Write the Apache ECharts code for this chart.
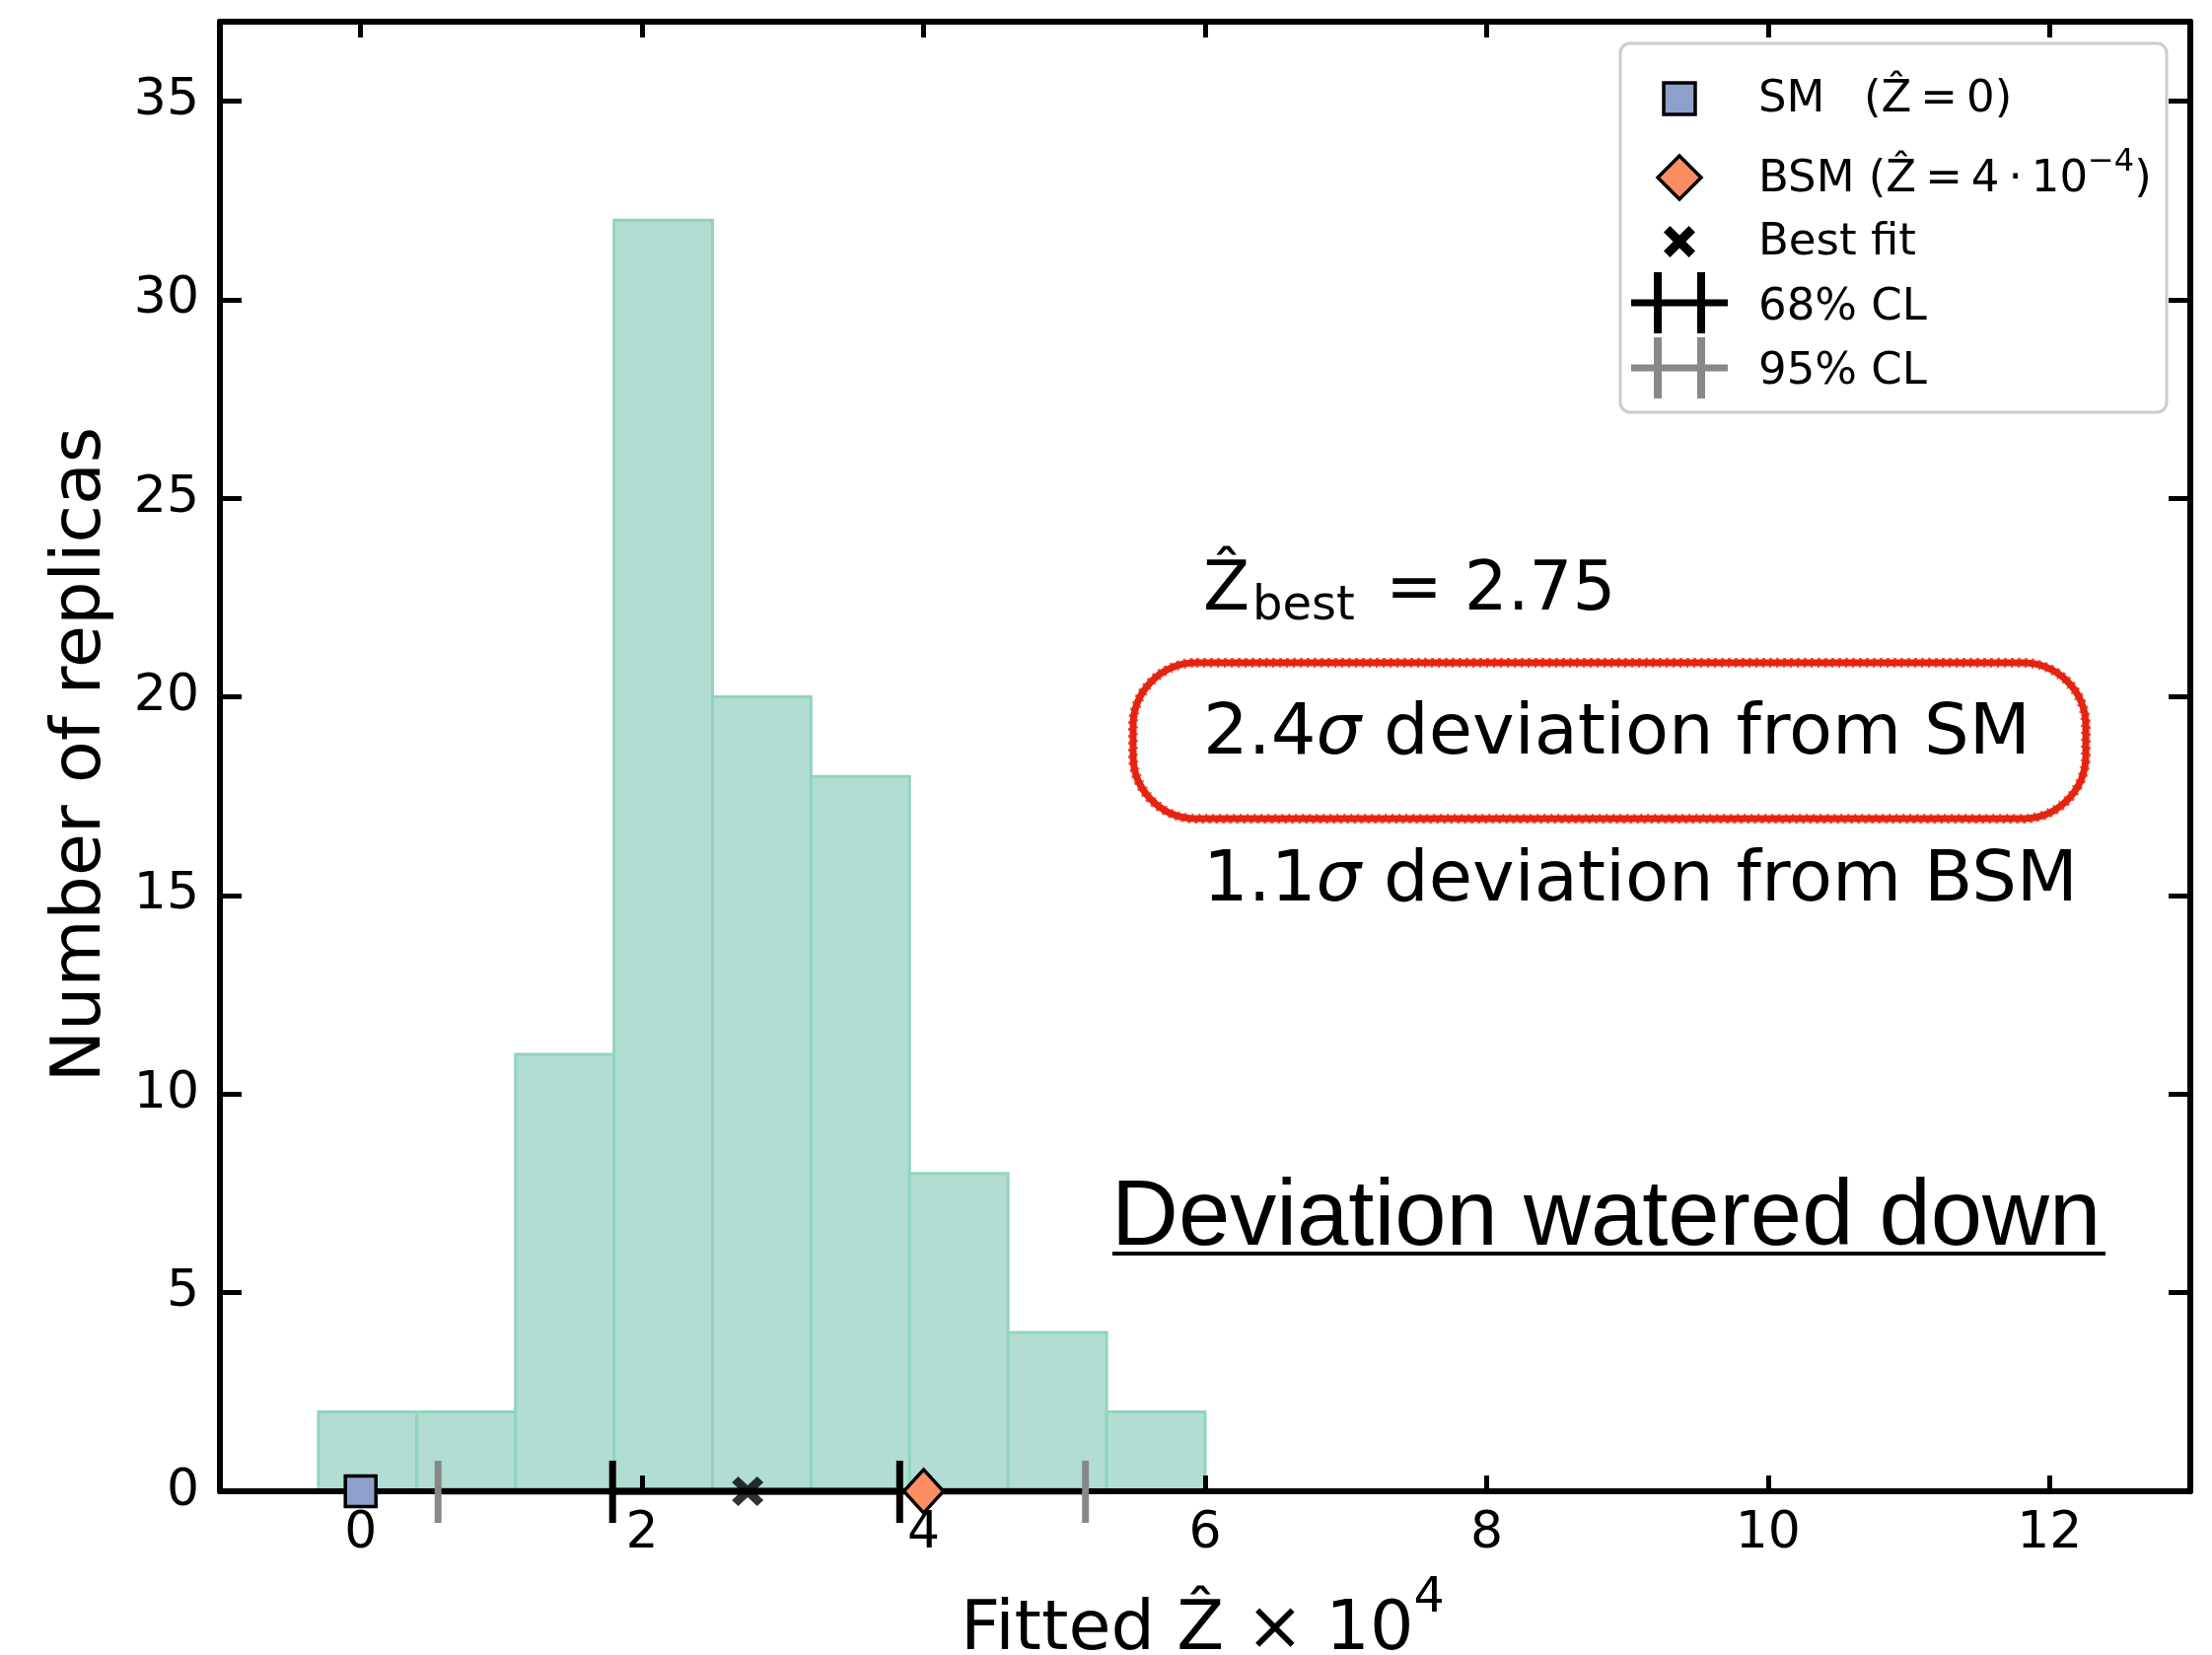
<!DOCTYPE html>
<html>
<head>
<meta charset="utf-8">
<script src="https://cdn.jsdelivr.net/npm/echarts@6/dist/echarts.min.js"></script>
<style>
  html, body { margin: 0; padding: 0; background: #ffffff; }
  #chart { width: 2243px; height: 1678px; }
</style>
</head>
<body>
<div id="chart"></div>
<script>
// Histogram of fitted Z-hat (x 10^4) over the replicas
const binEdges = [-0.3, 0.4, 1.1, 1.8, 2.5, 3.2, 3.9, 4.6, 5.3, 6.0];
const replicaCounts = [2, 2, 11, 32, 20, 18, 8, 4, 2];

// Reference points on the axis
const smPoint = [0, 0];
const bsmPoint = [4, 0];
const bestFitPoint = [2.75, 0];

// Confidence intervals (lower, upper)
const cl68 = [1.79, 3.83];
const cl95 = [0.55, 5.15];

// Tick positions
const xTicks = [0, 2, 4, 6, 8, 10, 12];
const yTicks = [0, 5, 10, 15, 20, 25, 30, 35];

const FONT = "'DejaVu Sans', sans-serif";
const HELV = "'Liberation Sans', Arial, sans-serif";
const BAR_FILL = '#b1ddd2';
const BAR_EDGE = '#93d3be';
const SM_COLOR = '#8da0cb';
const BSM_COLOR = '#fc8d62';
const CL68_COLOR = '#000000';
const CL95_COLOR = '#888888';
const MARKER_RED = '#e5230f';
// filled "x" marker outline in a 100x100 box
const X_OUTLINE = [[20, 0], [50, 30], [80, 0], [100, 20], [70, 50], [100, 80], [80, 100], [50, 70], [20, 100], [0, 80], [30, 50], [0, 20]];
const X_PATH = 'path://M' + X_OUTLINE.map(p => p.join(',')).join('L') + 'Z';

const histData = replicaCounts.map((c, i) => [binEdges[i], binEdges[i + 1], c]);
const clData = [
  [cl95[0], cl95[1], 0],
  [cl68[0], cl68[1], 1]
];
const clColors = [CL95_COLOR, CL68_COLOR];

function axisCommon(extra) {
  return Object.assign({
    type: 'value',
    splitLine: { show: false },
    axisLine: { show: true, onZero: false, lineStyle: { color: '#000', width: 6 } },
    z: 3
  }, extra);
}

// legend glyph for the best-fit marker, centred on (cx, cy)
function legendX(cx, cy, size) {
  return X_OUTLINE.map(p => [cx - size / 2 + p[0] * size / 100, cy - size / 2 + p[1] * size / 100]);
}

// legend glyph for an interval with end caps
function legendCL(cy, color) {
  return [
    { type: 'line', z: 11, shape: { x1: 1654, y1: cy, x2: 1752, y2: cy }, style: { stroke: color, lineWidth: 7 } },
    { type: 'line', z: 11, shape: { x1: 1681, y1: cy - 31, x2: 1681, y2: cy + 31 }, style: { stroke: color, lineWidth: 8 } },
    { type: 'line', z: 11, shape: { x1: 1725, y1: cy - 31, x2: 1725, y2: cy + 31 }, style: { stroke: color, lineWidth: 8 } }
  ];
}

function legendText(x, cy, text) {
  return { type: 'text', x: x, y: cy, z: 11,
    style: { text: text, fontSize: 45, fontFamily: FONT, fill: '#000', verticalAlign: 'middle' } };
}

// hand-drawn style highlight ring around the SM line
function highlightRing(x, y, w, h, r) {
  return [
    { type: 'rect', z: 12, shape: { x: x, y: y, width: w, height: h, r: r },
      style: { fill: 'transparent', stroke: MARKER_RED, lineWidth: 7 } },
    { type: 'rect', z: 12, shape: { x: x - 4, y: y - 4, width: w + 8, height: h + 8, r: r + 4 },
      style: { fill: 'transparent', stroke: 'rgba(229,35,15,0.75)', lineWidth: 2, lineDash: [3, 4] } },
    { type: 'rect', z: 12, shape: { x: x + 4, y: y + 4, width: w - 8, height: h - 8, r: r - 4 },
      style: { fill: 'transparent', stroke: 'rgba(229,35,15,0.75)', lineWidth: 2, lineDash: [2, 5] } }
  ];
}

const chart = echarts.init(document.getElementById('chart'), null, { renderer: 'canvas' });

const option = {
  animation: false,
  backgroundColor: '#ffffff',
  grid: { left: 223, right: 22, top: 22, bottom: 166, outerBoundsMode: 'none', containLabel: false },
  xAxis: [
    axisCommon({
      position: 'bottom', min: -1, max: 13,
      axisTick: { inside: true, length: 16, customValues: xTicks, lineStyle: { color: '#000', width: 5 } },
      axisLabel: { customValues: xTicks, fontSize: 52, fontFamily: FONT, color: '#000', margin: 17 }
    }),
    axisCommon({
      position: 'top', min: -1, max: 13,
      axisTick: { inside: true, length: 16, customValues: xTicks, lineStyle: { color: '#000', width: 5 } },
      axisLabel: { show: false }
    })
  ],
  yAxis: [
    axisCommon({
      position: 'left', min: 0, max: 37,
      axisTick: { inside: true, length: 22, customValues: yTicks, lineStyle: { color: '#000', width: 5 } },
      axisLabel: { customValues: yTicks, fontSize: 52, fontFamily: FONT, color: '#000', margin: 21 }
    }),
    axisCommon({
      position: 'right', min: 0, max: 37,
      axisTick: { inside: true, length: 22, customValues: yTicks, lineStyle: { color: '#000', width: 5 } },
      axisLabel: { show: false }
    })
  ],
  series: [
    {
      name: 'replicas',
      type: 'custom',
      xAxisIndex: 0, yAxisIndex: 0,
      z: 1,
      data: histData,
      renderItem: function (params, api) {
        const p0 = api.coord([api.value(0), api.value(2)]);
        const p1 = api.coord([api.value(1), 0]);
        return {
          type: 'rect',
          shape: { x: p0[0], y: p0[1], width: p1[0] - p0[0], height: p1[1] - p0[1] },
          style: { fill: BAR_FILL, stroke: BAR_EDGE, lineWidth: 3 }
        };
      }
    },
    {
      // interval bars along the axis
      name: 'CL lines',
      type: 'custom',
      z: 2,
      data: clData,
      renderItem: function (params, api) {
        const a = api.coord([api.value(0), 0]);
        const b = api.coord([api.value(1), 0]);
        return {
          type: 'line',
          shape: { x1: a[0], y1: a[1], x2: b[0], y2: b[1] },
          style: { stroke: clColors[api.value(2)], lineWidth: 7 }
        };
      }
    },
    {
      // interval end caps
      name: 'CL caps',
      type: 'custom',
      z: 4,
      clip: false,
      data: clData,
      renderItem: function (params, api) {
        const col = clColors[api.value(2)];
        const a = api.coord([api.value(0), 0]);
        const b = api.coord([api.value(1), 0]);
        return {
          type: 'group',
          children: [a, b].map(p => ({
            type: 'line',
            shape: { x1: p[0], y1: p[1] - 31, x2: p[0], y2: p[1] + 32 },
            style: { stroke: col, lineWidth: 7 }
          }))
        };
      }
    },
    {
      name: 'Best fit', type: 'scatter', z: 5, clip: false,
      data: [bestFitPoint], symbol: X_PATH, symbolSize: [32, 30],
      itemStyle: { color: '#000' }
    },
    {
      name: 'SM', type: 'scatter', z: 6, clip: false,
      data: [smPoint], symbol: 'rect', symbolSize: 31,
      itemStyle: { color: SM_COLOR, borderColor: '#000', borderWidth: 3.5, opacity: 1 }
    },
    {
      name: 'BSM', type: 'scatter', z: 6, clip: false,
      data: [bsmPoint], symbol: 'diamond', symbolSize: [40, 44],
      itemStyle: { color: BSM_COLOR, borderColor: '#000', borderWidth: 3.5, opacity: 1 }
    }
  ],
  graphic: {
    elements: [
      // axis titles
      {
        type: 'text', x: 83, y: 765, rotation: Math.PI / 2, z: 10,
        style: { text: 'Number of replicas', fontSize: 70, fontFamily: FONT, fill: '#000', align: 'center', verticalAlign: 'middle' }
      },
      {
        type: 'text', x: 974, y: 1597, z: 10,
        style: {
          text: '{m|Fitted Ẑ × 10}{s|4}', align: 'left', verticalAlign: 'top',
          rich: {
            m: { fontSize: 70, fontFamily: FONT, fill: '#000', lineHeight: 92, verticalAlign: 'bottom' },
            s: { fontSize: 49, fontFamily: FONT, fill: '#000', lineHeight: 49, verticalAlign: 'top' }
          }
        }
      },
      // legend
      {
        type: 'rect', z: 10,
        shape: { x: 1643, y: 44, width: 554, height: 374, r: 10 },
        style: { fill: 'rgba(255,255,255,0.85)', stroke: '#cccccc', lineWidth: 3 }
      },
      {
        type: 'rect', z: 11,
        shape: { x: 1687, y: 84, width: 32, height: 32 },
        style: { fill: SM_COLOR, stroke: '#000', lineWidth: 3.5 }
      },
      {
        type: 'polygon', z: 11,
        shape: { points: [[1703, 158], [1725, 180], [1703, 202], [1681, 180]] },
        style: { fill: BSM_COLOR, stroke: '#000', lineWidth: 3.5 }
      },
      {
        type: 'polygon', z: 11,
        shape: { points: legendX(1703, 245, 32) },
        style: { fill: '#000' }
      },
      ...legendCL(307, CL68_COLOR),
      ...legendCL(373, CL95_COLOR),
      legendText(1783, 101, 'SM'),
      legendText(1890, 101, '(Ẑ\u2009=\u20090)'),
      {
        type: 'text', x: 1783, y: 149, z: 11,
        style: {
          text: '{m|BSM (Ẑ\u2009=\u20094\u2009·\u200910}{s|−4}{m|)}', align: 'left', verticalAlign: 'top',
          rich: {
            m: { fontSize: 45, fontFamily: FONT, fill: '#000', lineHeight: 56, verticalAlign: 'bottom' },
            s: { fontSize: 32, fontFamily: FONT, fill: '#000', lineHeight: 32, verticalAlign: 'top' }
          }
        }
      },
      legendText(1783, 246, 'Best fit'),
      legendText(1783, 312, '68% CL'),
      legendText(1783, 377, '95% CL'),
      // fit summary
      {
        type: 'text', x: 1220, y: 600, z: 10,
        style: { text: 'Ẑ', fontSize: 69, fontFamily: FONT, fill: '#000', verticalAlign: 'middle' }
      },
      {
        type: 'text', x: 1270, y: 616, z: 10,
        style: { text: 'best', fontSize: 48, fontFamily: FONT, fill: '#000', verticalAlign: 'middle' }
      },
      {
        type: 'text', x: 1405, y: 600, z: 10,
        style: { text: '= 2.75', fontSize: 69, fontFamily: FONT, fill: '#000', verticalAlign: 'middle' }
      },
      {
        type: 'text', x: 1220, y: 745, z: 10,
        style: {
          text: '{n|2.4}{i|σ}{n| deviation from SM}', align: 'left', verticalAlign: 'middle',
          rich: {
            n: { fontSize: 72, fontFamily: FONT, fill: '#000' },
            i: { fontSize: 72, fontFamily: FONT, fontStyle: 'italic', fill: '#000' }
          }
        }
      },
      {
        type: 'text', x: 1220, y: 894, z: 10,
        style: {
          text: '{n|1.1}{i|σ}{n| deviation from BSM}', align: 'left', verticalAlign: 'middle',
          rich: {
            n: { fontSize: 72, fontFamily: FONT, fill: '#000' },
            i: { fontSize: 72, fontFamily: FONT, fontStyle: 'italic', fill: '#000' }
          }
        }
      },
      ...highlightRing(1149, 672, 966, 158, 64),
      {
        type: 'text', x: 1127, y: 1236, z: 10,
        style: { text: 'Deviation watered down', fontSize: 94, fontFamily: HELV, fill: '#000', verticalAlign: 'middle' }
      },
      {
        type: 'line', z: 10,
        shape: { x1: 1128, y1: 1271, x2: 2135, y2: 1271 },
        style: { stroke: '#000', lineWidth: 4 }
      }
    ]
  }
};

chart.setOption(option);
</script>
</body>
</html>
